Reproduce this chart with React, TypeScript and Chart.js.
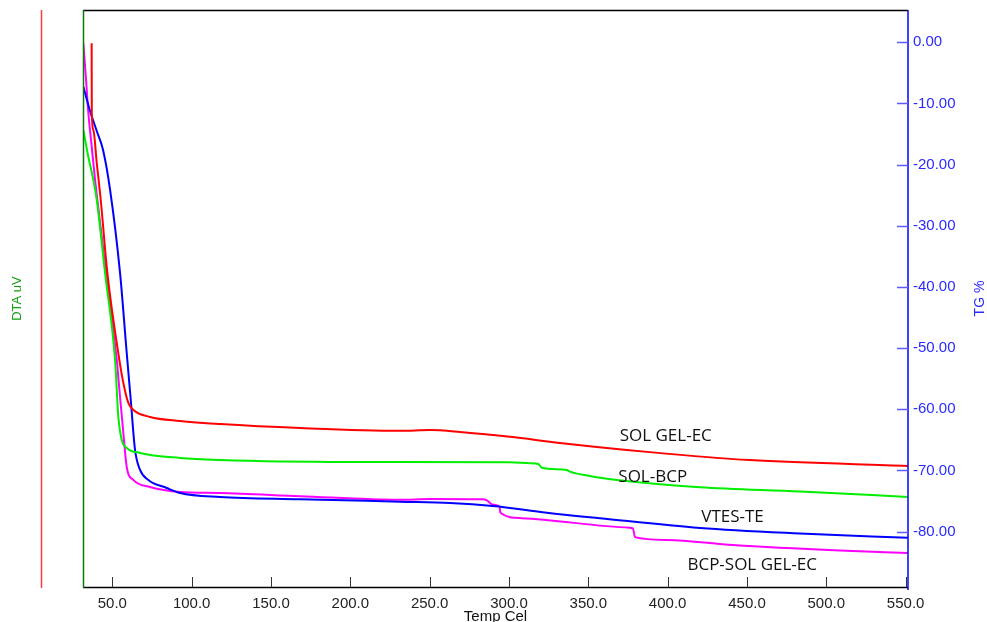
import React, { useEffect, useRef } from 'react';
import { Chart, registerables } from 'chart.js';

Chart.register(...registerables);

// ---- Data (temperature in °C, TG in %) ----
const solGelEcT = [36.95, 37.05, 38.03, 40.17, 42.69, 46.85, 54.41, 56.93, 60.08, 63.23, 73.76, 92.66, 117.9, 168.3, 231.3, 250.2, 269.1, 300.6, 332.1, 388.8, 451.8, 551.4];
const solGelEcV = [-0.16, -11.56, -14.34, -19.73, -25.78, -37.71, -51.93, -55.69, -58.96, -60.1, -61.25, -61.9, -62.4, -63.05, -63.5, -63.4, -63.7, -64.5, -65.5, -67.0, -68.3, -69.25];

const solBcpT = [31.72, 34.88, 38.03, 40.17, 45.4, 51.7, 53.78, 55.92, 59.07, 67.46, 92.66, 117.9, 199.8, 300.6, 313.2, 318.5, 320.6, 336.4, 338.4, 351.0, 355.3, 367.9, 420.4, 483.4, 551.4];
const solBcpV = [-14.34, -18.75, -22.51, -25.78, -37.71, -51.93, -61.25, -65.0, -66.32, -67.13, -67.95, -68.28, -68.6, -68.65, -68.82, -68.93, -69.54, -69.91, -70.19, -70.9, -71.1, -71.55, -72.74, -73.43, -74.33];

const vtesTeT = [31.72, 35.95, 40.17, 44.14, 48.6, 54.85, 58.9, 61.6, 64.3, 67.46, 72.69, 84.28, 92.66, 117.9, 168.3, 231.3, 262.8, 289.9, 323.9, 357.3, 420.4, 483.4, 551.4];
const vtesTeV = [-7.26, -11.23, -14.5, -17.6, -24.15, -37.71, -50.3, -58.47, -66.65, -69.91, -71.55, -72.86, -73.68, -74.33, -74.7, -75.1, -75.3, -75.8, -76.9, -77.8, -79.4, -80.3, -81.0];

const bcpSolGelEcT = [31.72, 33.43, 34.88, 37.02, 39.1, 40.55, 46.03, 52.77, 53.9, 56.93, 59.07, 63.23, 73.76, 92.66, 117.9, 168.3, 231.3, 250.2, 283.6, 286.1, 289.9, 294.0, 294.6, 308.0, 376.0, 378.1, 379.4, 399.4, 441.2, 508.6, 551.4];
const bcpSolGelEcV = [-0.16, -6.16, -11.56, -17.11, -22.5, -25.78, -37.71, -51.93, -55.2, -63.87, -69.43, -71.55, -72.69, -73.5, -73.67, -74.2, -74.8, -74.65, -74.7, -74.9, -75.6, -75.9, -76.9, -77.8, -79.35, -79.45, -80.9, -81.35, -82.2, -83.1, -83.5];

const xTicks = [50, 100, 150, 200, 250, 300, 350, 400, 450, 500, 550];
const yTicks = [0, -10, -20, -30, -40, -50, -60, -70, -80];

const curveLabels = ['SOL GEL-EC', 'SOL-BCP', 'VTES-TE', 'BCP-SOL GEL-EC'];
const curveLabelT = [398.8, 390.6, 440.9, 453.3];
const curveLabelV = [-64.31, -71.1, -77.55, -85.56];

const X_MIN = 31.5;
const X_MAX = 551.5;
const Y_MIN = -89.05;
const Y_MAX = 5.28;

export default function App() {
  const ref = useRef<HTMLCanvasElement | null>(null);

  useEffect(() => {
    if (!ref.current) return;
    const pts = (t: number[], v: number[]) => t.map((x, i) => ({ x, y: v[i] }));

    const framePlugin = {
      id: 'framePlugin',
      afterDraw(chart: any) {
        const { ctx, chartArea: a, scales } = chart;
        const xs = scales.x;
        const ys = scales.y;
        const seg = (x1: number, y1: number, x2: number, y2: number, color: string, w: number) => {
          ctx.beginPath();
          ctx.strokeStyle = color;
          ctx.lineWidth = w;
          ctx.moveTo(x1, y1);
          ctx.lineTo(x2, y2);
          ctx.stroke();
        };
        ctx.save();
        // DTA axis (red, no ticks)
        seg(41.5, a.top, 41.5, a.bottom + 1, '#ff3c3c', 1.5);
        // frame
        seg(a.left, a.top + 0.5, a.right, a.top + 0.5, '#000000', 1.5);
        seg(a.left, a.bottom + 0.5, a.right, a.bottom + 0.5, '#000000', 1.5);
        seg(a.left + 0.5, a.top, a.left + 0.5, a.bottom + 1, '#0a7a0a', 1.5);
        seg(a.right, a.top, a.right, a.bottom + 3, '#0000ff', 1.5);
        // x ticks (inside)
        xTicks.forEach((v) => {
          const px = Math.round(xs.getPixelForValue(v)) + 0.5;
          seg(px, a.bottom - 10, px, a.bottom, '#333333', 1);
        });
        // y ticks (inside, blue)
        yTicks.forEach((v) => {
          const py = Math.round(ys.getPixelForValue(v)) + 0.5;
          seg(a.right - 11, py, a.right, py, '#5a5aff', 1.5);
        });
        // axis titles
        ctx.textAlign = 'center';
        ctx.textBaseline = 'middle';
        ctx.fillStyle = '#111111';
        ctx.font = '15px "Liberation Sans", Arial, sans-serif';
        ctx.fillText('Temp Cel', (a.left + a.right) / 2, 617);

        ctx.save();
        ctx.translate(17, (a.top + a.bottom) / 2);
        ctx.rotate(-Math.PI / 2);
        ctx.fillStyle = '#12a012';
        ctx.font = '13px "Liberation Sans", Arial, sans-serif';
        ctx.fillText('DTA uV', 0, 0);
        ctx.restore();

        ctx.save();
        ctx.translate(980, (a.top + a.bottom) / 2);
        ctx.rotate(-Math.PI / 2);
        ctx.fillStyle = '#2a2aff';
        ctx.font = '14px "Liberation Sans", Arial, sans-serif';
        ctx.fillText('TG %', 0, 0);
        ctx.restore();

        // curve labels
        ctx.fillStyle = '#111111';
        ctx.font = '17px "Open Sans", "Noto Sans", sans-serif';
        curveLabels.forEach((s, i) => {
          ctx.fillText(s, xs.getPixelForValue(curveLabelT[i]), ys.getPixelForValue(curveLabelV[i]));
        });
        ctx.restore();
      },
    };

    const ds = (label: string, t: number[], v: number[], color: string) => ({
      label,
      data: pts(t, v),
      borderColor: color,
      backgroundColor: color,
      borderWidth: 2,
      pointRadius: 0,
      fill: false,
      cubicInterpolationMode: 'monotone' as const,
    });

    const zeroPad = (s: any) => {
      s.paddingTop = 0;
      s.paddingBottom = 0;
      s.paddingLeft = 0;
      s.paddingRight = 0;
    };

    const chart = new Chart(ref.current, {
      type: 'line',
      data: {
        datasets: [
          ds('SOL GEL-EC', solGelEcT, solGelEcV, '#ff0000'),
          ds('SOL-BCP', solBcpT, solBcpV, '#00ee00'),
          ds('VTES-TE', vtesTeT, vtesTeV, '#0000ff'),
          ds('BCP-SOL GEL-EC', bcpSolGelEcT, bcpSolGelEcV, '#ff00ff'),
        ],
      },
      options: {
        responsive: false,
        animation: false,
        layout: { padding: { left: 83, top: 10, right: 0, bottom: 0 } },
        plugins: { legend: { display: false }, tooltip: { enabled: false } },
        scales: {
          x: {
            type: 'linear',
            position: 'bottom',
            min: X_MIN,
            max: X_MAX,
            afterBuildTicks: (s: any) => {
              s.ticks = xTicks.map((value) => ({ value }));
            },
            afterFit: (s: any) => {
              s.height = 35;
              zeroPad(s);
            },
            grid: { display: false, drawTicks: false },
            border: { display: false },
            ticks: {
              autoSkip: false,
              maxRotation: 0,
              padding: 8,
              color: '#222222',
              font: { family: '"Liberation Sans", Arial, sans-serif', size: 15 },
              callback: (v: any) => Number(v).toFixed(1),
            },
          },
          y: {
            type: 'linear',
            position: 'right',
            min: Y_MIN,
            max: Y_MAX,
            afterBuildTicks: (s: any) => {
              s.ticks = yTicks.map((value) => ({ value }));
            },
            afterFit: (s: any) => {
              s.width = 79;
              zeroPad(s);
            },
            grid: { display: false, drawTicks: false },
            border: { display: false },
            ticks: {
              autoSkip: false,
              padding: 5,
              color: '#2a2aff',
              font: { family: '"Liberation Sans", Arial, sans-serif', size: 15 },
              callback: (v: any) => Number(v).toFixed(2),
            },
          },
        },
      },
      plugins: [framePlugin],
    });
    return () => chart.destroy();
  }, []);

  return (
    <div style={{ position: 'absolute', left: 0, top: 0, width: 987, height: 622, background: '#ffffff' }}>
      <canvas ref={ref} width={987} height={622} style={{ display: 'block', width: 987, height: 622 }} />
    </div>
  );
}
